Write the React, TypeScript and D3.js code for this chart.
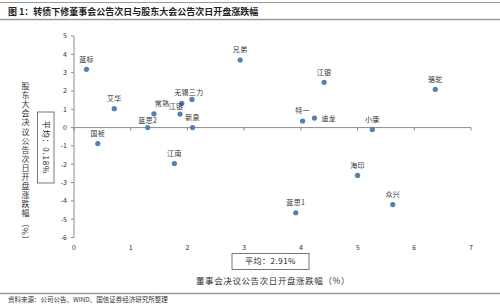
import React from "react";
import * as d3 from "d3";

const names = ["蓝标", "艾华", "常熟", "蓝思2", "江银", "无锡", "三力", "新泉", "兄弟", "国祯", "江南", "江银", "骆驼", "特一", "迪龙", "小康", "海印", "众兴", "蓝思1"];
const boardChange = [0.22, 0.71, 1.41, 1.30, 1.87, 1.90, 2.08, 2.09, 2.93, 0.42, 1.77, 4.41, 6.37, 4.03, 4.24, 5.26, 5.00, 5.62, 3.91];
const meetingChange = [3.18, 1.03, 0.75, 0.0, 0.74, 1.32, 1.54, 0.0, 3.69, -0.87, -1.96, 2.47, 2.09, 0.36, 0.52, -0.10, -2.61, -4.20, -4.65];
const xTicks = [0, 1, 2, 3, 4, 5, 6, 7];
const yTicks = [-6, -5, -4, -3, -2, -1, 0, 1, 2, 3, 4, 5];
const meanX = "平均：2.91%";
const meanY = "平均：0.18%";
const title = "图 1：转债下修董事会公告次日与股东大会公告次日开盘涨跌幅";
const xTitle = "董事会决议公告次日开盘涨跌幅（%）";
const yTitle = "股东大会决议公告次日开盘涨跌幅（%）";
const source = "资料来源：公司公告、WIND、国信证券经济研究所整理";

// label placement (layout only)
const labelText = ["蓝标", "艾华", "常熟", "蓝思2", "江银", "无锡三力", "", "新泉", "兄弟", "国祯", "江南", "江银", "骆驼", "特一", "迪龙", "小康", "海印", "众兴", "蓝思1"];
const labelDx = [0, 0, 8, 0, -4, 0, 0, 0, 0, 0, 0, 0, 0, 0, 14, 0, 0, 0, 0];
const labelDy = [-10, -10, -10, -7, -7, -10, 0, -10, -10, -10, -10, -10, -10, -10, 0, -10, -10, -10, -10];

const W = 500;
const H = 306;
const font = "'Noto Sans CJK SC', 'Noto Sans', sans-serif";

export default function App() {
  const x = d3.scaleLinear().domain([0, 7]).range([74, 471]);
  const y = d3.scaleLinear().domain([-6, 5]).range([237.5, 36]);
  const axisColor = "#8c8c8c";
  const pointColor = "#4f81bd";

  return (
    <svg width={W} height={H} style={{ position: "absolute", left: 0, top: 0, background: "#fff" }} fontFamily={font}>
      <line x1={0} x2={W} y1={2.5} y2={2.5} stroke="#9a9a9a" strokeWidth={1} />
      <text x={8} y={14.5} fontSize={9} fontWeight="bold" fill="#222">{title}</text>
      <line x1={0} x2={W} y1={19.5} y2={19.5} stroke="#9a9a9a" strokeWidth={1.5} />

      {/* y axis */}
      <line x1={x(0)} x2={x(0)} y1={y(5)} y2={y(-6)} stroke={axisColor} strokeWidth={1} />
      {yTicks.map((t) => (
        <g key={"y" + t}>
          <line x1={x(0) - 3} x2={x(0)} y1={y(t)} y2={y(t)} stroke={axisColor} />
          <text x={x(0) - 7} y={y(t)} dy="0.35em" fontSize={7} textAnchor="end" fill="#333">{t}</text>
        </g>
      ))}
      {/* x axis at y=0 */}
      <line x1={x(0)} x2={x(7)} y1={y(0)} y2={y(0)} stroke={axisColor} strokeWidth={1} />
      {xTicks.map((t) => (
        <g key={"x" + t}>
          <line x1={x(t)} x2={x(t)} y1={y(0)} y2={y(0) + 3} stroke={axisColor} />
          <text x={x(t)} y={y(-6) + 12} fontSize={7} textAnchor="middle" fill="#333">{t}</text>
        </g>
      ))}

      {/* points */}
      {boardChange.map((v, i) => (
        <circle key={"p" + i} cx={x(v)} cy={y(meetingChange[i])} r={2.6} fill={pointColor} />
      ))}
      {labelText.map((lab, i) => {
        if (!lab) return null;
        let lx = x(boardChange[i]) + labelDx[i];
        let ly = y(meetingChange[i]) + labelDy[i];
        if (lab === "无锡三力") {
          lx = (x(boardChange[i]) + x(boardChange[i + 1])) / 2 + 2;
          ly = y(meetingChange[i + 1]) - 7;
        }
        return (
          <text key={"l" + i} x={lx} y={ly} dy="0.35em" fontSize={7} textAnchor="middle" fill="#333" letterSpacing={0.3}>{lab}</text>
        );
      })}

      {/* mean boxes */}
      <rect x={37.5} y={112} width={16.5} height={71} fill="#fff" stroke="#555" strokeWidth={0.8} />
      <text transform={`translate(45.8,147.5) rotate(90)`} fontSize={8} textAnchor="middle" dy="0.35em" fill="#222" letterSpacing={0.8}>{meanY}</text>
      <rect x={232} y={253.5} width={77} height={16} fill="#fff" stroke="#555" strokeWidth={0.8} />
      <text x={270.5} y={261.5} fontSize={8} textAnchor="middle" dy="0.35em" fill="#222" letterSpacing={0.5}>{meanX}</text>

      {/* axis titles */}
      <text x={273} y={281} fontSize={8.5} textAnchor="middle" dy="0.35em" fill="#333" letterSpacing={0.6}>{xTitle}</text>
      <text x={25.5} y={82} fontSize={8} fill="#333" letterSpacing={1.1} style={{ writingMode: "vertical-rl" as any }}>{yTitle}</text>

      <line x1={0} x2={W} y1={293.5} y2={293.5} stroke="#9a9a9a" strokeWidth={1.5} />
      <text x={8} y={302} fontSize={6.5} fill="#333">{source}</text>
    </svg>
  );
}
